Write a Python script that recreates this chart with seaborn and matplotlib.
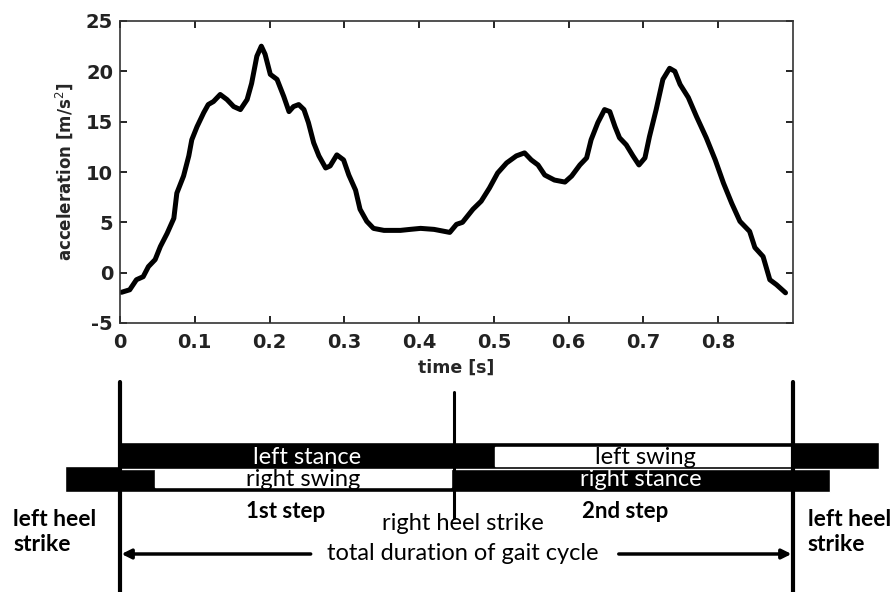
import numpy as np
import pandas as pd
import matplotlib
matplotlib.use("Agg")
import matplotlib.pyplot as plt
import seaborn as sns

# ---------------- data ----------------
time_s = [0.002, 0.013, 0.022, 0.031, 0.038, 0.047, 0.054, 0.063, 0.072, 0.076,
          0.085, 0.092, 0.096, 0.103, 0.112, 0.118, 0.125, 0.134, 0.143, 0.152,
          0.161, 0.170, 0.176, 0.183, 0.189, 0.194, 0.201, 0.210, 0.219, 0.226,
          0.232, 0.239, 0.246, 0.252, 0.259, 0.266, 0.275, 0.281, 0.290, 0.299,
          0.306, 0.315, 0.321, 0.330, 0.339, 0.353, 0.375, 0.388, 0.402, 0.420,
          0.441, 0.450, 0.458, 0.472, 0.483, 0.494, 0.505, 0.517, 0.530, 0.541,
          0.550, 0.559, 0.568, 0.581, 0.595, 0.604, 0.615, 0.624, 0.630, 0.639,
          0.648, 0.655, 0.662, 0.668, 0.677, 0.686, 0.694, 0.702, 0.708, 0.717,
          0.726, 0.735, 0.742, 0.749, 0.760, 0.771, 0.784, 0.796, 0.807, 0.818,
          0.829, 0.842, 0.849, 0.860, 0.869, 0.878, 0.890]
accel = [-1.95, -1.7, -0.7, -0.4, 0.6, 1.3, 2.6, 3.9, 5.4, 7.9,
         9.6, 11.6, 13.2, 14.5, 15.9, 16.7, 17.0, 17.7, 17.2, 16.5,
         16.2, 17.2, 18.8, 21.5, 22.5, 21.7, 19.7, 19.2, 17.5, 16.0,
         16.5, 16.7, 16.2, 14.9, 12.9, 11.6, 10.4, 10.6, 11.7, 11.2,
         9.7, 8.2, 6.3, 5.1, 4.4, 4.2, 4.2, 4.3, 4.4, 4.3,
         4.0, 4.8, 5.0, 6.3, 7.1, 8.4, 9.9, 10.9, 11.6, 11.9,
         11.2, 10.7, 9.7, 9.2, 9.0, 9.6, 10.7, 11.4, 13.2, 14.9,
         16.2, 16.0, 14.5, 13.4, 12.7, 11.6, 10.7, 11.4, 13.5, 16.2,
         19.2, 20.3, 20.0, 18.7, 17.4, 15.5, 13.4, 11.2, 8.9, 6.9,
         5.1, 4.1, 2.5, 1.6, -0.7, -1.2, -2.0]

x_ticks = [0, 0.1, 0.2, 0.3, 0.4, 0.5, 0.6, 0.7, 0.8]
x_ticklabels = ["0", "0.1", "0.2", "0.3", "0.4", "0.5", "0.6", "0.7", "0.8"]
y_ticks = [-5, 0, 5, 10, 15, 20, 25]
y_ticklabels = ["-5", "0", "5", "10", "15", "20", "25"]

# gait events (time, s)
left_heel_strike_1 = 0.0
right_heel_strike = 0.446
left_heel_strike_2 = 0.90

# phase bars: label, start, end (s)
left_bar = (0.0, 1.015)
left_swing = ("left swing", 0.502, 0.8996)
left_stance_label = "left stance"
right_bar = (-0.074, 0.950)
right_swing = ("right swing", 0.047, 0.442)
right_stance_label = "right stance"

df = pd.DataFrame({"time [s]": time_s, "acceleration": accel})

# ---------------- figure ----------------
sns.set_style("ticks")
plt.rcParams["font.family"] = ["DejaVu Sans"]
plt.rcParams["axes.unicode_minus"] = False

W, H = 895, 592
fig = plt.figure(figsize=(W / 100, H / 100), dpi=100)

def fx(px):
    return px / W

def fy(py):
    return 1 - py / H

ax_left, ax_right, ax_top, ax_bot = 120, 793, 21, 323
ax = fig.add_axes([fx(ax_left), fy(ax_bot), fx(ax_right - ax_left), fy(ax_top) - fy(ax_bot)])

sns.lineplot(data=df, x="time [s]", y="acceleration", color="black",
             linewidth=3.6, ax=ax, solid_capstyle="round", solid_joinstyle="round")
ax.set_xlim(0, 0.9)
ax.set_ylim(-5, 25)
ax.set_xticks(x_ticks)
ax.set_xticklabels(x_ticklabels)
ax.set_yticks(y_ticks)
ax.set_yticklabels(y_ticklabels)
ax.tick_params(direction="in", top=True, right=True, length=5, width=1.2,
               labelsize=14, colors="black")
ax.tick_params(axis="x", pad=7)
ax.tick_params(axis="y", pad=5)
for lab in ax.get_xticklabels() + ax.get_yticklabels():
    lab.set_fontweight("bold")
    lab.set_color("#222222")
for sp in ax.spines.values():
    sp.set_visible(True)
    sp.set_linewidth(1.2)
    sp.set_color("#333333")
ax.set_xlabel("time [s]", fontsize=12.5, fontweight="bold", labelpad=5)
ax.set_ylabel("acceleration [m/s$^2$]", fontsize=12, fontweight="bold", labelpad=8)

# ---------------- gait diagram ----------------
dtop, dbot = 378, 592
dax = fig.add_axes([fx(ax_left), fy(dbot), fx(ax_right - ax_left), fy(dtop) - fy(dbot)])
dax.set_xlim(0, 0.9)
dax.set_ylim(dbot, dtop)
dax.axis("off")

dfont = ["Lato", "DejaVu Sans"]
fs = 17

# bars (y in pixel-row units of the diagram)
row1_y, row1_h = 455.5, 27
row2_y, row2_h = 479, 26
dax.barh(row1_y, left_bar[1] - left_bar[0], left=left_bar[0], height=row1_h,
         color="black", clip_on=False, zorder=2)
dax.barh(row2_y, right_bar[1] - right_bar[0], left=right_bar[0], height=row2_h,
         color="black", clip_on=False, zorder=1)
dax.barh(456.2, left_swing[2] - left_swing[1], left=left_swing[1], height=19,
         color="white", clip_on=False, zorder=3)
dax.barh(478.5, right_swing[2] - right_swing[1], left=right_swing[1], height=17,
         color="white", clip_on=False, zorder=3)

# vertical event lines
dax.plot([left_heel_strike_1] * 2, [382, 600], color="black", lw=3, clip_on=False, zorder=4)
dax.plot([right_heel_strike] * 2, [392, 518], color="black", lw=2.2, clip_on=False, zorder=4)
dax.plot([left_heel_strike_2] * 2, [382, 600], color="black", lw=3, clip_on=False, zorder=4)

# phase labels
dax.text(0.250, 458, left_stance_label, color="white", fontsize=fs, family=dfont,
         ha="center", va="center", zorder=5)
dax.text(0.245, 480, right_swing[0], color="black", fontsize=fs, family=dfont,
         ha="center", va="center", zorder=5)
dax.text(0.703, 458, left_swing[0], color="black", fontsize=fs, family=dfont,
         ha="center", va="center", zorder=5)
dax.text(0.696, 480, right_stance_label, color="white", fontsize=fs, family=dfont,
         ha="center", va="center", zorder=5)

dax.text(0.221, 512, "1st step", color="black", fontsize=16, family=dfont,
         fontweight="bold", ha="center", va="center")
dax.text(0.675, 512, "2nd step", color="black", fontsize=16, family=dfont,
         fontweight="bold", ha="center", va="center")
dax.text(-0.143, 532, "left heel\nstrike", color="black", fontsize=16.5, family=dfont,
         fontweight="bold", ha="left", va="center", linespacing=1.25, clip_on=False)
dax.text(0.92, 532, "left heel\nstrike", color="black", fontsize=16.5, family=dfont,
         fontweight="bold", ha="left", va="center", linespacing=1.25, clip_on=False)
dax.text(0.459, 524, "right heel strike", color="black", fontsize=fs, family=dfont,
         ha="center", va="center")
dax.text(0.458, 554, "total duration of gait cycle", color="black", fontsize=fs,
         family=dfont, ha="center", va="center")

# arrows
dax.annotate("", xy=(left_heel_strike_1 + 0.002, 554), xytext=(0.255, 554),
             arrowprops=dict(arrowstyle="-|>", color="black", lw=2.5,
                             mutation_scale=14, shrinkA=0, shrinkB=0))
dax.annotate("", xy=(left_heel_strike_2 - 0.002, 554), xytext=(0.667, 554),
             arrowprops=dict(arrowstyle="-|>", color="black", lw=2.5,
                             mutation_scale=14, shrinkA=0, shrinkB=0))

fig.savefig("out.png", dpi=100, facecolor="white")
